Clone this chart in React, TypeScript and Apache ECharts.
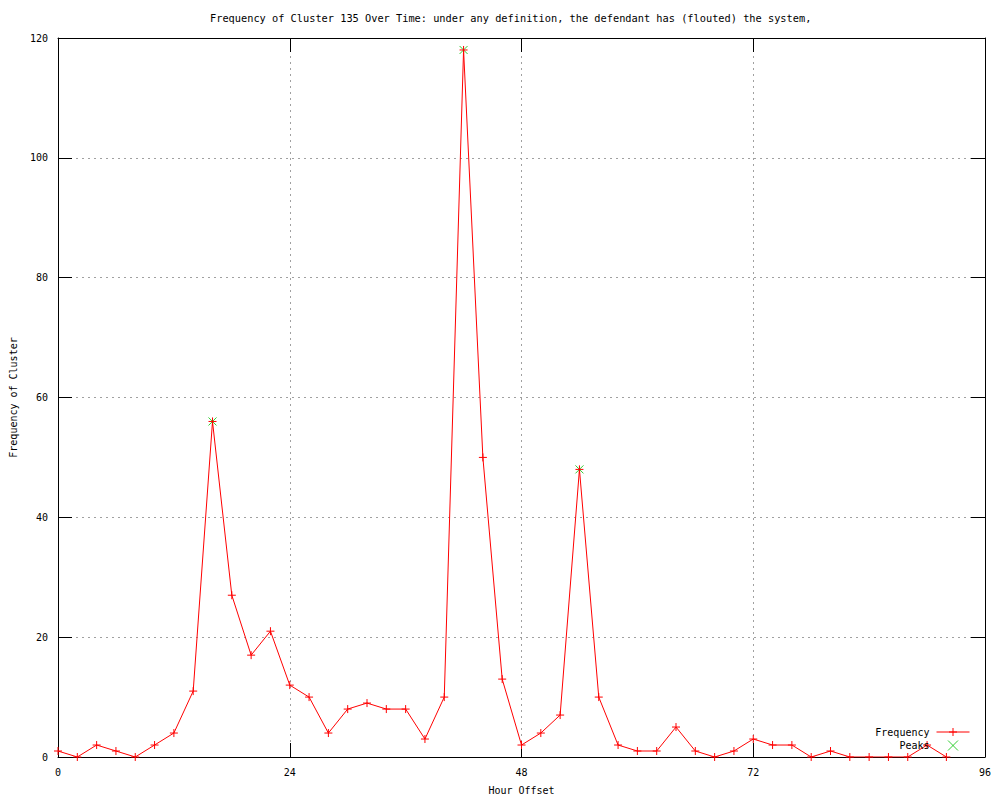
import React, { useEffect, useRef } from "react";
import * as echarts from "echarts";

const hours = [0, 2, 4, 6, 8, 10, 12, 14, 16, 18, 20, 22, 24, 26, 28, 30, 32, 34, 36, 38, 40, 42, 44, 46, 48, 50, 52, 54, 56, 58, 60, 62, 64, 66, 68, 70, 72, 74, 76, 78, 80, 82, 84, 86, 88, 90, 92];
const frequency = [1, 0, 2, 1, 0, 2, 4, 11, 56, 27, 17, 21, 12, 10, 4, 8, 9, 8, 8, 3, 10, 118, 50, 13, 2, 4, 7, 48, 10, 2, 1, 1, 5, 1, 0, 1, 3, 2, 2, 0, 1, 0, 0, 0, 0, 2, 0];
const peakHours = [16, 42, 54];
const peakValues = [56, 118, 48];

const titleText = "Frequency of Cluster 135 Over Time: under any definition, the defendant has (flouted) the system,";
const xName = "Hour Offset";
const yName = "Frequency of Cluster";

const FONT = "DejaVu Sans Mono";
const PLUS = "path://M0,5L10,5M5,0L5,10";
const CROSS = "path://M0,0L10,10M10,0L0,10";

export default function App() {
  const ref = useRef<HTMLDivElement>(null);
  useEffect(() => {
    if (!ref.current) return;
    const chart = echarts.init(ref.current, null, { renderer: "svg" });
    const axisCommon = {
      axisLine: { show: true, onZero: false, lineStyle: { color: "#000", width: 1 } },
      axisTick: { show: true, inside: true, length: 14, lineStyle: { color: "#000" } },
      minorTick: { show: false },
    };
    const grid = { show: true, lineStyle: { color: "#a0a0a0", type: [2, 4], width: 1 } };
    chart.setOption({
      animation: false,
      backgroundColor: "#fff",
      textStyle: { fontFamily: FONT },
      title: {
        text: titleText,
        left: 205,
        top: 8,
        textStyle: { fontFamily: FONT, fontSize: 10.3, fontWeight: "normal", color: "#000" },
      },
      grid: { left: 54, right: 15, top: 38, bottom: 38, containLabel: false, show: false },
      legend: {
        orient: "vertical",
        right: 30,
        top: 727,
        padding: 0,
        align: "right",
        itemWidth: 33,
        itemHeight: 10,
        itemGap: 3,
        lineStyle: { width: 1 },
        textStyle: { fontFamily: FONT, fontSize: 10, color: "#000", padding: [0, 2, 0, 0] },
        data: [
          { name: "Frequency", itemStyle: { color: "#ff0000", borderColor: "#ff0000", borderWidth: 1 }, lineStyle: { width: 1 } },
          { name: "Peaks", icon: CROSS, itemStyle: { color: "#00c000", borderColor: "#00c000", borderWidth: 1 } },
        ],
      },
      xAxis: [
        {
          type: "value",
          min: 0,
          max: 96,
          interval: 24,
          position: "bottom",
          name: xName,
          nameLocation: "middle",
          nameGap: 28,
          nameTextStyle: { fontFamily: FONT, fontSize: 10, color: "#000" },
          axisLabel: { fontFamily: FONT, fontSize: 10, color: "#000", margin: 10 },
          splitLine: grid,
          ...axisCommon,
        },
        {
          type: "value",
          min: 0,
          max: 96,
          interval: 24,
          position: "top",
          axisLabel: { show: false },
          splitLine: { show: false },
          ...axisCommon,
        },
      ],
      yAxis: [
        {
          type: "value",
          min: 0,
          max: 120,
          interval: 20,
          position: "left",
          name: yName,
          nameLocation: "middle",
          nameGap: 40,
          nameRotate: 90,
          nameTextStyle: { fontFamily: FONT, fontSize: 10, color: "#000" },
          axisLabel: { fontFamily: FONT, fontSize: 10, color: "#000", margin: 10 },
          splitLine: grid,
          ...axisCommon,
        },
        {
          type: "value",
          min: 0,
          max: 120,
          interval: 20,
          position: "right",
          axisLabel: { show: false },
          splitLine: { show: false },
          ...axisCommon,
        },
      ],
      series: [
        {
          name: "Frequency",
          type: "line",
          data: hours.map((h, i) => [h, frequency[i]]),
          lineStyle: { color: "#ff0000", width: 1 },
          itemStyle: { color: "#ff0000", borderColor: "#ff0000", borderWidth: 1 },
          symbol: PLUS,
          symbolSize: 8,
          showAllSymbol: true,
          z: 3,
        },
        {
          name: "Peaks",
          type: "scatter",
          data: peakHours.map((h, i) => [h, peakValues[i]]),
          itemStyle: { color: "#00c000", borderColor: "#00c000", borderWidth: 1 },
          symbol: CROSS,
          symbolSize: 8,
          symbolKeepAspect: true,
          z: 2,
        },
      ],
    });
    return () => chart.dispose();
  }, []);
  return (
    <div
      ref={ref}
      style={{ position: "fixed", left: 0, top: 0, width: 1000, height: 800, background: "#fff" }}
    />
  );
}
